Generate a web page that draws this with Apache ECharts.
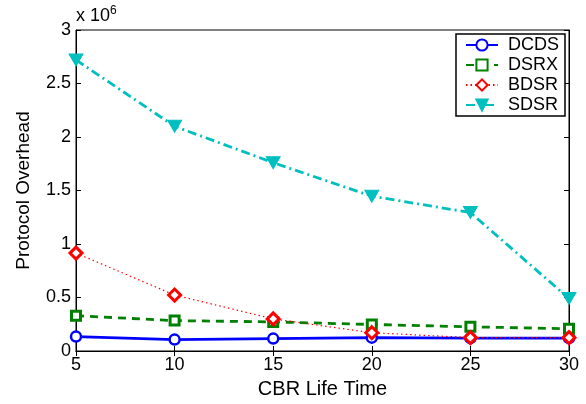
<!DOCTYPE html>
<html>
<head>
<meta charset="utf-8">
<script src="https://cdn.jsdelivr.net/npm/echarts@6/dist/echarts.min.js"></script>
<style>html,body{margin:0;padding:0;background:#fff;}#c{width:586px;height:404px;}</style>
</head>
<body>
<div id="c"></div>
<script>
var lifeTimes = [5, 10, 15, 20, 25, 30];
var dcds = [0.135, 0.107, 0.116, 0.125, 0.12, 0.12];
var dsrx = [0.33, 0.284, 0.272, 0.248, 0.226, 0.208];
var bdsr = [0.915, 0.523, 0.30, 0.171, 0.125, 0.125];
var sdsr = [2.72, 2.10, 1.76, 1.447, 1.294, 0.49];
var yTickLabels = ['0', '0.5', '1', '1.5', '2', '2.5', '3'];

function pairs(v) { return lifeTimes.map(function (x, i) { return [x, v[i]]; }); }

var font = 'Liberation Sans, Arial, Helvetica, sans-serif';
var chart = echarts.init(document.getElementById('c'), null, { renderer: 'canvas' });
var tickInside = { show: true, inside: true, length: 5, lineStyle: { color: '#000', width: 1 } };

chart.setOption({
  animation: false,
  backgroundColor: '#fff',
  grid: { left: 76, right: 17, top: 30, bottom: 47, show: true, borderColor: '#000', borderWidth: 1 },
  xAxis: [{
    type: 'value', min: 5, max: 30, interval: 5,
    name: 'CBR Life Time', nameLocation: 'middle', nameGap: 28,
    nameTextStyle: { fontFamily: font, fontSize: 20, color: '#000' },
    axisLine: { show: true, lineStyle: { color: '#000', width: 1 } },
    axisTick: tickInside,
    axisLabel: { fontFamily: font, fontSize: 18, color: '#000', margin: 5 },
    splitLine: { show: false }
  }, {
    type: 'value', min: 5, max: 30, interval: 5, position: 'top',
    axisLine: { show: true, lineStyle: { color: '#000', width: 1 } },
    axisTick: tickInside, axisLabel: { show: false }, splitLine: { show: false }
  }],
  yAxis: [{
    type: 'value', min: 0, max: 3, interval: 0.5,
    name: 'Protocol Overhead', nameLocation: 'middle', nameGap: 43,
    nameTextStyle: { fontFamily: font, fontSize: 19, color: '#000' },
    axisLine: { show: true, lineStyle: { color: '#000', width: 1 } },
    axisTick: tickInside,
    axisLabel: { fontFamily: font, fontSize: 18, color: '#000', margin: 5,
      formatter: function (v) { return yTickLabels[Math.round(v / 0.5)]; } },
    splitLine: { show: false }
  }, {
    type: 'value', min: 0, max: 3, interval: 0.5, position: 'right',
    axisLine: { show: true, lineStyle: { color: '#000', width: 1 } },
    axisTick: tickInside, axisLabel: { show: false }, splitLine: { show: false }
  }],
  legend: {
    orient: 'vertical', right: 21, top: 34,
    backgroundColor: '#fff', borderColor: '#000', borderWidth: 1.5,
    padding: [2, 6, 2, 9], itemGap: 2, itemWidth: 32, itemHeight: 14,
    textStyle: { fontFamily: font, fontSize: 18, color: '#000', lineHeight: 16, padding: [0, 0, 0, 5] },
    data: ['DCDS', 'DSRX', 'BDSR', 'SDSR']
  },
  graphic: [{
    type: 'text', left: 76, top: 5,
    style: {
      text: '{a|x 10}{b|6}',
      rich: {
        a: { fontFamily: font, fontSize: 18, fill: '#000' },
        b: { fontFamily: font, fontSize: 12, fill: '#000', verticalAlign: 'top', padding: [0, 0, 10, 0] }
      }
    }
  }],
  series: [{
    name: 'DCDS', type: 'line', data: pairs(dcds),
    color: '#0000ff',
    lineStyle: { color: '#0000ff', width: 2.8, type: 'solid' },
    symbol: 'circle', symbolSize: 10,
    itemStyle: { color: '#fff', borderColor: '#0000ff', borderWidth: 2.5 }
  }, {
    name: 'DSRX', type: 'line', data: pairs(dsrx),
    color: '#008000',
    lineStyle: { color: '#008000', width: 2.8, type: [8, 6] },
    symbol: 'rect', symbolSize: 9,
    itemStyle: { color: '#fff', borderColor: '#008000', borderWidth: 3 }
  }, {
    name: 'BDSR', type: 'line', data: pairs(bdsr),
    color: '#ff0000',
    lineStyle: { color: '#ff0000', width: 1.2, type: [1.5, 3] },
    symbol: 'diamond', symbolSize: 12,
    itemStyle: { color: '#fff', borderColor: '#ff0000', borderWidth: 3 }
  }, {
    name: 'SDSR', type: 'line', data: pairs(sdsr),
    color: '#00bfbf',
    lineStyle: { color: '#00bfbf', width: 2.8, type: [9, 4, 2, 4] },
    symbol: 'path://M0,0 L10,0 L5,9 Z', symbolSize: [14, 12],
    itemStyle: { color: '#00bfbf', borderColor: '#00bfbf', borderWidth: 1 }
  }]
});
</script>
</body>
</html>
